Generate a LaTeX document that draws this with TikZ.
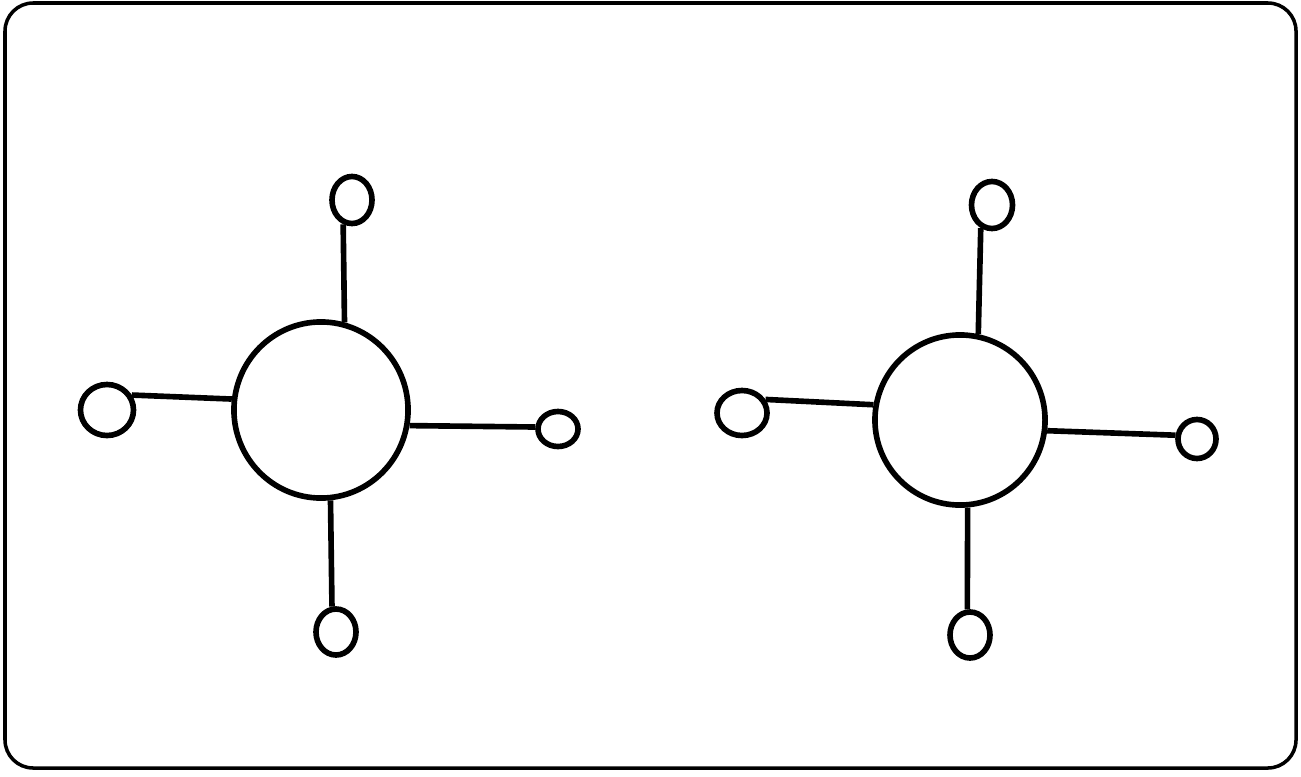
\documentclass[tikz,border=0pt]{standalone}
\usetikzlibrary{shapes.geometric}
\begin{document}
\begin{tikzpicture}[x=0.01cm,y=-0.01cm,
  ink/.style={line width=1.6pt,black},
  core/.style={ellipse,draw,ink,inner sep=0pt,minimum width=1.74cm,minimum height=1.76cm},
  atom/.style={ellipse,draw,ink,inner sep=0pt},
  bond/.style={ink}]
\useasboundingbox (0,0) rectangle (1301,776);
\draw[line width=1pt,rounded corners=8] (5,3) rectangle (1296,768);
% left molecule
\node[core] (c1) at (321,410) {};
\node[atom,minimum width=0.40cm,minimum height=0.47cm] (t1) at (352,200) {};
\node[atom,minimum width=0.53cm,minimum height=0.51cm] (l1) at (107,410) {};
\node[atom,minimum width=0.40cm,minimum height=0.35cm] (r1) at (558,429) {};
\node[atom,minimum width=0.40cm,minimum height=0.46cm] (b1) at (336,632) {};
\draw[bond] (t1.250) -- (c1.75);
\draw[bond] (l1.31) -- (c1.173);
\draw[bond] (r1.175) -- (c1.350);
\draw[bond] (b1.99) -- (c1.276);
% right molecule
\node[core,minimum width=1.70cm,minimum height=1.70cm] (c2) at (960,420) {};
\node[atom,minimum width=0.41cm,minimum height=0.47cm] (t2) at (992,205) {};
\node[atom,minimum width=0.50cm,minimum height=0.45cm] (l2) at (742,413) {};
\node[atom,minimum width=0.38cm,minimum height=0.39cm] (r2) at (1197,439) {};
\node[atom,minimum width=0.40cm,minimum height=0.46cm] (b2) at (970,635) {};
\draw[bond] (t2.244) -- (c2.78);
\draw[bond] (l2.30) -- (c2.170);
\draw[bond] (r2.170) -- (c2.353);
\draw[bond] (b2.96) -- (c2.275);
\end{tikzpicture}
\end{document}
